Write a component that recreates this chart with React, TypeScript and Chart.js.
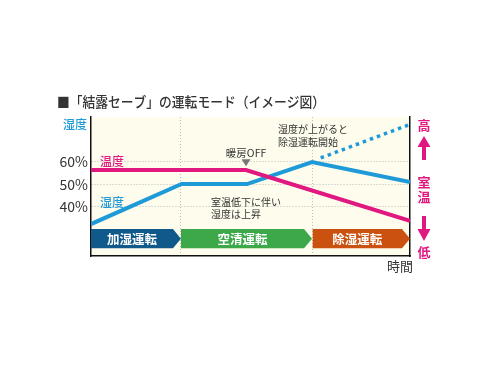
import React, { useEffect, useRef } from 'react';
import { Chart, registerables } from 'chart.js';

Chart.register(...registerables);

// ---- data ----
const tempX = [0, 48.6, 100];
const tempY = [56.4, 56.4, 33.8];
const humX = [0, 28.4, 48.9, 69.3, 100];
const humY = [32.4, 50.2, 50.2, 60, 51.1];
const humRiseX = [72, 99.4];
const humRiseY = [61.8, 76.4];

const yTicks = [40, 50, 60];
const xGrid = [28.2, 69.3];

const stageNames = ['加湿運転', '空清運転', '除湿運転'];
const stageStart = [0, 28.2, 69.5];
const stageEnd = [28.2, 69.3, 100];
const stageColors = ['#0f5a8b', '#3da84a', '#ca510f'];
const stageLow = 21.6;
const stageHigh = 30.2;

const FONT = '"Noto Sans CJK JP", "Noto Sans", sans-serif';
const MAGENTA = '#e0187f';
const BLUE = '#1f9ad8';

function font(size: number, weight = 400) {
  return `${weight} ${size}px ${FONT}`;
}

const decorPlugin = {
  id: 'decor',
  beforeDraw(chart: any) {
    const { ctx, chartArea: a } = chart;
    ctx.save();
    ctx.fillStyle = '#fefcec';
    ctx.fillRect(a.left, a.top, a.right - a.left, a.bottom - a.top);
    ctx.restore();
  },
  beforeDatasetsDraw(chart: any) {
    const { ctx } = chart;
    const xs = chart.scales.x;
    const ys = chart.scales.y;
    const top = ys.getPixelForValue(stageHigh);
    const bot = ys.getPixelForValue(stageLow);
    const mid = (top + bot) / 2;
    ctx.save();
    stageNames.forEach((name, i) => {
      const x0 = xs.getPixelForValue(stageStart[i]);
      const x1 = xs.getPixelForValue(stageEnd[i]);
      const tip = 8;
      ctx.fillStyle = stageColors[i];
      ctx.beginPath();
      ctx.moveTo(x0, top);
      ctx.lineTo(x1 - tip, top);
      ctx.lineTo(x1, mid);
      ctx.lineTo(x1 - tip, bot);
      ctx.lineTo(x0, bot);
      ctx.closePath();
      ctx.fill();
      ctx.fillStyle = '#ffffff';
      ctx.font = font(12.5, 700);
      ctx.textAlign = 'center';
      ctx.textBaseline = 'middle';
      ctx.fillText(name, (x0 + x1 - tip) / 2, mid + 0.5);
    });
    ctx.restore();
  },
  afterDraw(chart: any) {
    const { ctx, chartArea: a } = chart;
    const xs = chart.scales.x;
    const ys = chart.scales.y;
    const px = (v: number) => xs.getPixelForValue(v);
    const py = (v: number) => ys.getPixelForValue(v);
    ctx.save();
    ctx.textBaseline = 'middle';

    // title
    ctx.fillStyle = '#333';
    ctx.font = font(14, 500);
    ctx.textAlign = 'left';
    ctx.fillText('■「結露セーブ」の運転モード（イメージ図）', 57, 102, 268);

    // y axis title
    ctx.fillStyle = BLUE;
    ctx.font = font(12, 500);
    ctx.textAlign = 'right';
    ctx.fillText('湿度', a.left - 4, 124);

    // inline series labels
    ctx.textAlign = 'left';
    ctx.fillStyle = MAGENTA;
    ctx.font = font(12, 500);
    ctx.fillText('温度', px(2.8), py(60.3));
    ctx.fillStyle = BLUE;
    ctx.fillText('湿度', px(2.8), py(41.8));

    // annotations
    ctx.fillStyle = '#333';
    ctx.font = font(10.5);
    ctx.textAlign = 'center';
    ctx.fillText('暖房OFF', px(48.6), py(64));
    // triangle marker
    const tx = px(48.6);
    const ty = py(61.2);
    ctx.fillStyle = '#777';
    ctx.beginPath();
    ctx.moveTo(tx - 4.5, ty);
    ctx.lineTo(tx + 4.5, ty);
    ctx.lineTo(tx, ty + 7);
    ctx.closePath();
    ctx.fill();

    ctx.fillStyle = '#333';
    ctx.textAlign = 'left';
    ctx.font = font(10);
    ctx.fillText('室温低下に伴い', px(37.6), py(42.2));
    ctx.fillText('湿度は上昇', px(37.6), py(36.9));
    ctx.fillText('湿度が上がると', px(58.6), py(74.6));
    ctx.fillText('除湿運転開始', px(58.6), py(68.6));

    // right side legend for temperature
    const cx = a.right + 14;
    ctx.fillStyle = MAGENTA;
    ctx.font = font(13, 700);
    ctx.textAlign = 'center';
    ctx.fillText('高', cx, 125);
    ctx.fillText('室', cx, 182);
    ctx.fillText('温', cx, 197);
    ctx.fillText('低', cx, 252);
    // up arrow
    ctx.beginPath();
    ctx.moveTo(cx, 136);
    ctx.lineTo(cx + 6.5, 147);
    ctx.lineTo(cx + 2, 147);
    ctx.lineTo(cx + 2, 160);
    ctx.lineTo(cx - 2, 160);
    ctx.lineTo(cx - 2, 147);
    ctx.lineTo(cx - 6.5, 147);
    ctx.closePath();
    ctx.fill();
    // down arrow
    ctx.beginPath();
    ctx.moveTo(cx, 241);
    ctx.lineTo(cx + 6.5, 229);
    ctx.lineTo(cx + 2, 229);
    ctx.lineTo(cx + 2, 216);
    ctx.lineTo(cx - 2, 216);
    ctx.lineTo(cx - 2, 229);
    ctx.lineTo(cx - 6.5, 229);
    ctx.closePath();
    ctx.fill();

    // x axis title
    ctx.fillStyle = '#333';
    ctx.font = font(13);
    ctx.textAlign = 'center';
    ctx.fillText('時間', a.right - 10, a.bottom + 10);
    ctx.restore();
  },
};

export default function App() {
  const ref = useRef<HTMLCanvasElement>(null);
  useEffect(() => {
    document.body.style.margin = '0';
    const yMin = 18.2;
    const yMax = 80;
    const chart = new Chart(ref.current as HTMLCanvasElement, {
      type: 'line',
      data: {
        datasets: [
          {
            label: '温度',
            data: tempX.map((x, i) => ({ x, y: tempY[i] })),
            borderColor: MAGENTA,
            borderWidth: 4,
            pointRadius: 0,
            tension: 0,
          },
          {
            label: '湿度',
            data: humX.map((x, i) => ({ x, y: humY[i] })),
            borderColor: BLUE,
            borderWidth: 4,
            pointRadius: 0,
            tension: 0,
            borderJoinStyle: 'miter',
          },
          {
            label: '湿度(上昇)',
            data: humRiseX.map((x, i) => ({ x, y: humRiseY[i] })),
            borderColor: BLUE,
            borderWidth: 3.5,
            borderDash: [3.5, 4],
            pointRadius: 0,
            tension: 0,
          },
        ],
      },
      options: {
        responsive: false,
        animation: false,
        devicePixelRatio: 1,
        layout: { padding: { top: 117, left: 0, right: 0, bottom: 0 } },
        plugins: {
          legend: { display: false },
          tooltip: { enabled: false },
        },
        scales: {
          x: {
            type: 'linear',
            min: 0,
            max: 100,
            afterBuildTicks: (s: any) => {
              s.ticks = xGrid.map((v) => ({ value: v }));
            },
            afterFit: (s: any) => {
              s.height = 112;
            },
            ticks: { display: false },
            grid: { color: '#bdbdbd', lineWidth: 1, drawTicks: false },
            border: { color: '#111', width: 1.5, dash: [1, 2] },
          },
          y: {
            type: 'linear',
            min: yMin,
            max: yMax,
            afterBuildTicks: (s: any) => {
              s.ticks = yTicks.map((v) => ({ value: v }));
            },
            afterFit: (s: any) => {
              s.width = 91;
            },
            ticks: {
              callback: (v: any) => `${v}%`,
              color: '#333',
              padding: 3,
              font: { family: FONT, size: 14 },
            },
            grid: { color: '#bdbdbd', lineWidth: 1, drawTicks: false },
            border: { color: '#111', width: 1.5, dash: [1, 2] },
          },
          y2: {
            type: 'linear',
            position: 'right',
            min: yMin,
            max: yMax,
            afterFit: (s: any) => {
              s.width = 80;
            },
            ticks: { display: false },
            grid: { display: false, drawTicks: false },
            border: { color: '#111', width: 1.5 },
          },
        },
      } as any,
      plugins: [decorPlugin],
    });
    return () => chart.destroy();
  }, []);
  return (
    <div style={{ width: 490, height: 368, background: '#fff' }}>
      <canvas ref={ref} width={490} height={368} style={{ display: 'block' }} />
    </div>
  );
}
